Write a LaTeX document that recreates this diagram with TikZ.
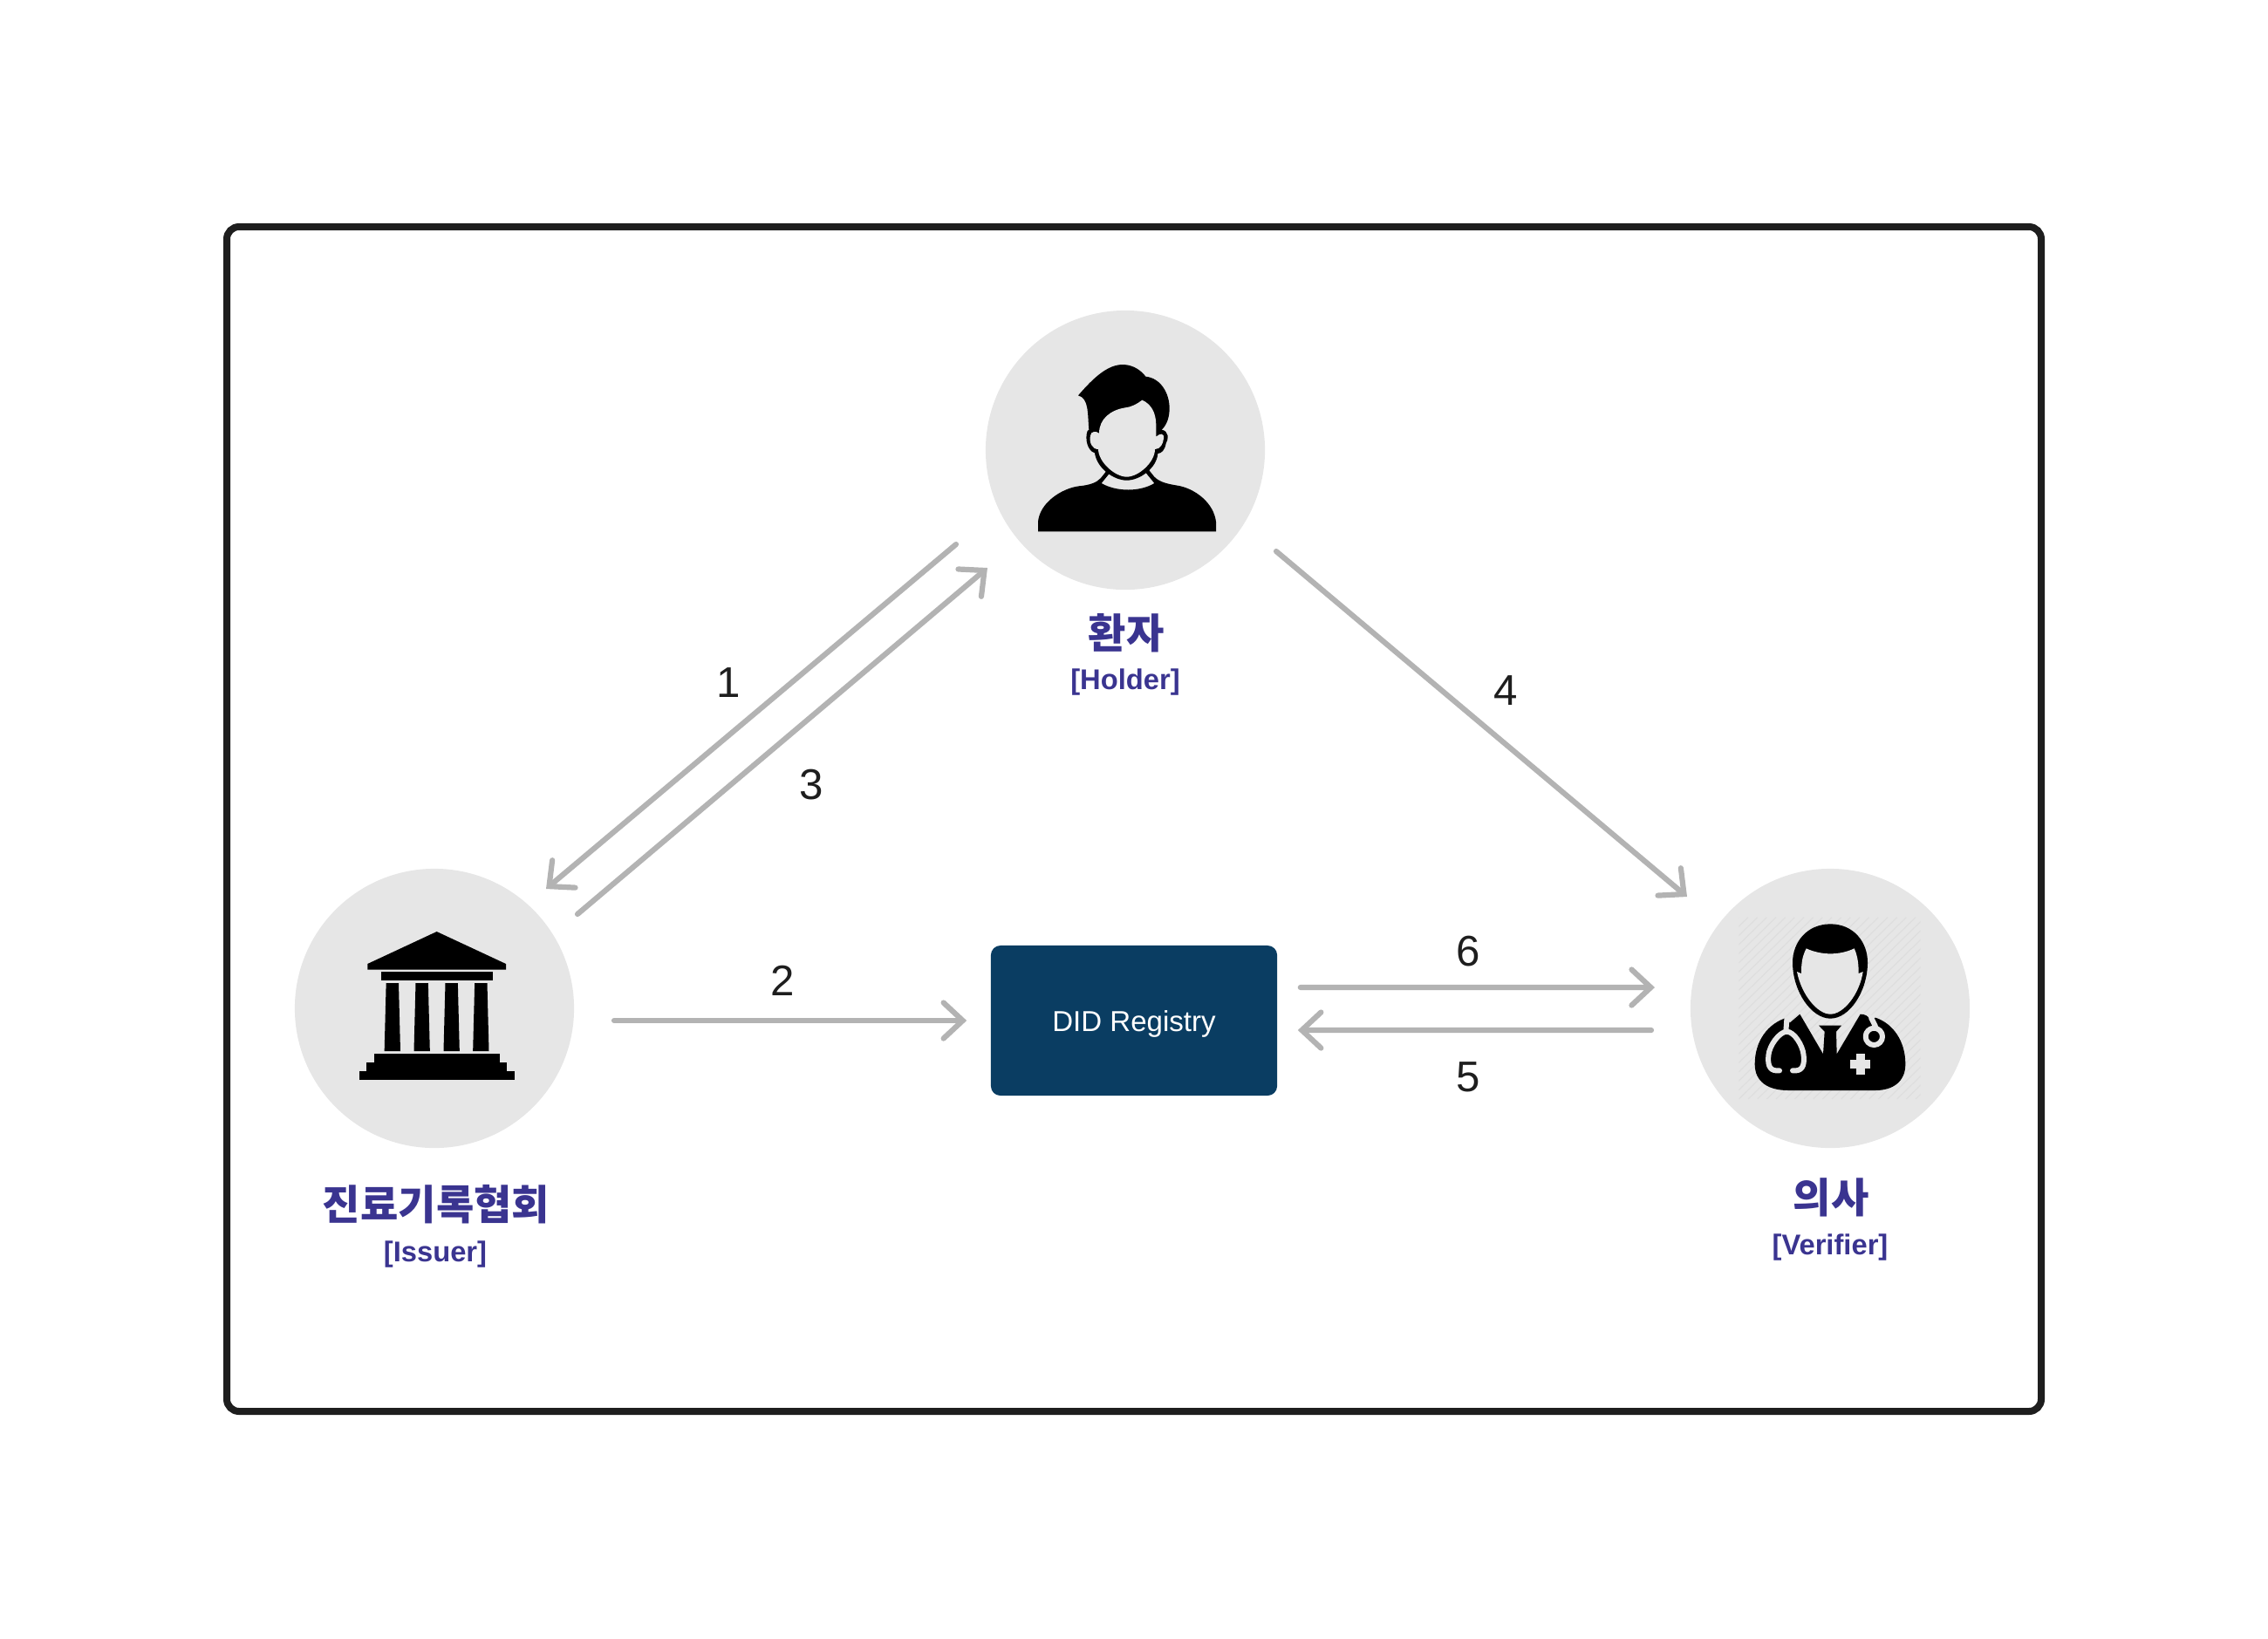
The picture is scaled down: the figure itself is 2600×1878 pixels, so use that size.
\documentclass[tikz,border=0pt]{standalone}
\usepackage{fontspec}
\setmainfont{Liberation Sans}
\newfontfamily\krfont{Noto Sans CJK KR}
\usetikzlibrary{arrows.meta}
\definecolor{discgray}{HTML}{E6E6E6}
\definecolor{hatchgray}{HTML}{DEDEDE}
\definecolor{flowgray}{HTML}{B3B3B3}
\definecolor{boxblue}{HTML}{0A3D62}
\definecolor{titleblue}{HTML}{3A3490}
\definecolor{inkblack}{HTML}{1E1E1E}
\tikzset{
    actor/.style={circle,fill=discgray,minimum size=3.2cm,inner sep=0},
    registry/.style={rectangle,fill=boxblue,rounded corners=.11cm,minimum width=3.28cm,minimum height=1.72cm,inner sep=0,text=white,text height=.24cm,text depth=0cm,font=\fontsize{9.4}{11}\selectfont},
    flow/.style={flowgray,line width=.062cm,line cap=round,-{Straight Barb[length=.22cm,width=.41cm,line cap=round]}},
    stepnum/.style={inner sep=0,text=inkblack,font=\fontsize{14}{16}\selectfont},
    title/.style={inner sep=0,text=titleblue,font=\krfont\bfseries\fontsize{13.4}{15}\selectfont},
    role/.style={inner sep=0,text=titleblue,font=\bfseries\fontsize{9.3}{10}\selectfont},
    tube/.style={discgray,line width=.06cm,line cap=round,line join=round}
}
\begin{document}
\begin{tikzpicture}[x=.01cm,y=-.01cm]
        \useasboundingbox (0,0) rectangle (2600,1878);
        \draw [inkblack,line width=.08cm,rounded corners=.14cm] (260,260) rectangle (2340,1618);
        \node [actor] (holder) at (1290,516) {};
        \node [actor] (issuer) at (498,1156) {};
        \node [actor] (verifier) at (2098,1156) {};
        \node [registry] (did) at (1300,1170) {DID Registry};
        \node [title] (holdername) at (1291,726) {환자};
        \node [role] (holderrole) at (1290,782) {[Holder]};
        \node [title] (issuername) at (500,1381) {진료기록협회};
        \node [role] (issuerrole) at (499,1438) {[Issuer]};
        \node [title] (verifiername) at (2099,1373) {의사};
        \node [role] (verifierrole) at (2098,1430) {[Verifier]};
        % arrows
        \draw [flow] ([shift={(-194,108)}]holder.center) -- ([shift={(128,-137)}]issuer.center);
        \draw [flow] ([shift={(164,-108)}]issuer.center) -- ([shift={(-158,135)}]holder.center);
        \draw [flow] ([shift={(173,116)}]holder.center) -- ([shift={(-164,-128)}]verifier.center);
        \draw [flow] ([shift={(206,14)}]issuer.center) -- ([xshift=-.27cm]did.west);
        \draw [flow] ([shift={(.26cm,.38cm)}]did.east) -- ([shift={(-201,-24)}]verifier.center);
        \draw [flow] ([shift={(-205,25)}]verifier.center) -- ([shift={(.23cm,-.11cm)}]did.east);
        \node [stepnum] (one) at (835,783) {1};
        \node [stepnum] (two) at (897,1124) {2};
        \node [stepnum] (three) at (930,900) {3};
        \node [stepnum] (four) at (1726,792) {4};
        \node [stepnum] (five) at (1683,1235) {5};
        \node [stepnum] (six) at (1683,1091) {6};
        % temple
        \begin{scope}[shift={(330,990)},scale=1/3]
            \fill (512,234) -- (750,345) -- (750,365) -- (274,365) -- (274,345) -- cycle;
            \fill (320,373) rectangle (705,403);
            \foreach \l in {0,101.5,203.5,304.5}{
                \fill (338+\l,411) -- (381+\l,411) -- (387+\l,645) -- (332+\l,645) -- cycle;
            }
            \fill (297,654) rectangle (728,684);
            \fill (271,684) rectangle (754,714);
            \fill (246,714) rectangle (779,744);
        \end{scope}
        % patient
        \begin{scope}[shift={(1120,340)},scale=1/3]
            \fill (210,808) -- (210,775) .. controls (215,710) and (290,660) .. (350,652)
                .. controls (390,648) and (410,640) .. (425,625) -- (445,600) -- (458,605) -- (428,642)
                .. controls (480,672) and (560,672) .. (610,642) -- (580,605) -- (590,595) -- (610,620)
                .. controls (630,640) and (660,645) .. (690,650)
                .. controls (750,660) and (815,710) .. (822,775) -- (822,808) -- cycle;
            \fill (348,340) .. controls (400,280) and (450,232) .. (505,234)
                .. controls (540,236) and (565,255) .. (580,275)
                .. controls (630,280) and (662,330) .. (662,385)
                .. controls (662,410) and (655,440) .. (635,458)
                .. controls (660,462) and (660,490) .. (650,505)
                .. controls (645,530) and (635,538) .. (622,540)
                .. controls (618,590) and (560,632) .. (515,632)
                .. controls (470,632) and (412,590) .. (405,538)
                .. controls (380,530) and (370,490) .. (380,462)
                -- (385,458) .. controls (380,400) and (385,350) .. (348,340) -- cycle;
            \fill [discgray] (420,470) .. controls (420,420) and (460,390) .. (510,382)
                .. controls (530,380) and (550,370) .. (568,356)
                .. controls (600,370) and (615,400) .. (616,440) -- (616,482)
                .. controls (628,470) and (645,468) .. (642,488)
                .. controls (640,505) and (632,525) .. (612,525)
                .. controls (612,570) and (555,620) .. (515,620)
                .. controls (475,620) and (418,570) .. (417,525)
                .. controls (395,525) and (385,500) .. (390,478)
                .. controls (392,462) and (410,462) .. (420,470) -- cycle;
        \end{scope}
        % doctor
        \begin{scope}[shift={(1940,990)},scale=1/3]
            \begin{scope}
                \clip (160,185) rectangle (785,810);
                \foreach \i in {0,32,...,1250}{
                    \draw [hatchgray,line width=.012cm] (160+\i-640,810) -- (160+\i,185);
                }
            \end{scope}
            \fill (475,208) .. controls (395,208) and (345,270) .. (345,340)
                .. controls (345,440) and (410,533) .. (475,533)
                .. controls (540,533) and (603,440) .. (603,340)
                .. controls (603,270) and (555,208) .. (475,208) -- cycle;
            \fill [discgray] (392,292) .. controls (420,305) and (450,310) .. (475,310)
                .. controls (500,310) and (530,305) .. (557,292)
                .. controls (570,320) and (572,350) .. (572,378) -- (587,372)
                .. controls (575,450) and (520,518) .. (475,518)
                .. controls (430,518) and (375,450) .. (360,372) -- (375,378)
                .. controls (375,340) and (378,320) .. (392,292) -- cycle;
            \fill (325,530) .. controls (260,550) and (215,610) .. (215,690)
                .. controls (215,750) and (260,780) .. (330,780) -- (630,780)
                .. controls (690,780) and (733,750) .. (733,690)
                .. controls (733,610) and (690,550) .. (630,530)
                -- (610,535) .. controls (605,525) and (595,518) .. (578,518)
                -- (497,655) -- (495,578) -- (513,557) -- (435,557) -- (455,578) -- (450,655)
                -- (370,518) -- (335,548) -- cycle;
            \draw [tube] (325,535) -- (322,578);
            \draw [tube] (300,712) .. controls (270,715) and (258,700) .. (262,660)
                .. controls (265,625) and (300,578) .. (325,578)
                .. controls (350,578) and (380,625) .. (383,660)
                .. controls (387,700) and (375,715) .. (345,712);
            \draw [tube] (615,530) -- (630,560);
            \draw [tube] (625,595) circle (29);
            \fill [discgray] (563,655) rectangle (593,725);
            \fill [discgray] (543,675) rectangle (613,705);
        \end{scope}
\end{tikzpicture}
\end{document}
